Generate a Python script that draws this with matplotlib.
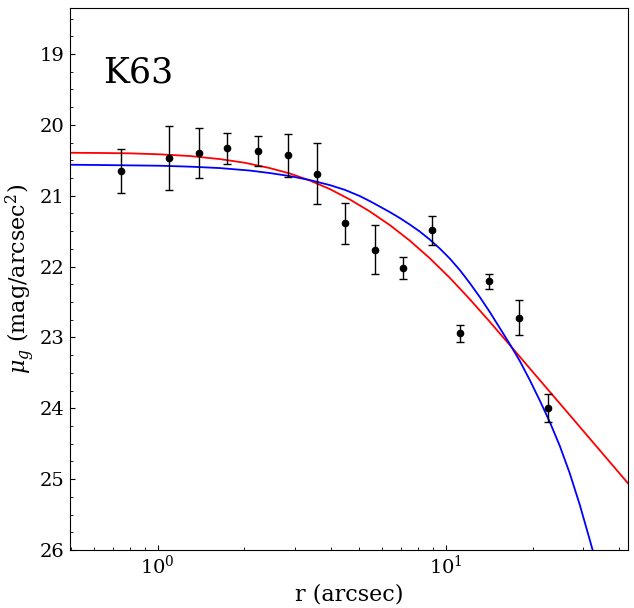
import numpy as np
import matplotlib
matplotlib.use('Agg')
import matplotlib.pyplot as plt
from matplotlib.ticker import MultipleLocator

# surface brightness profile of K63 (g band)
r = [0.746, 1.094, 1.39, 1.74, 2.23, 2.83, 3.57, 4.47, 5.69, 7.13, 8.97, 11.2, 14.1, 18.0, 22.7]
mu = [20.65, 20.47, 20.40, 20.33, 20.37, 20.43, 20.69, 21.39, 21.76, 22.02, 21.49, 22.94, 22.21, 22.72, 24.00]
mu_err = [0.31, 0.45, 0.35, 0.22, 0.21, 0.30, 0.43, 0.29, 0.35, 0.15, 0.20, 0.12, 0.11, 0.25, 0.20]

# model curves
r_red = [0.495, 0.629, 0.799, 1.016, 1.292, 1.642, 2.005, 2.448, 2.873, 3.371, 3.956, 4.642,
         5.446, 6.391, 7.499, 8.799, 10.325, 12.115, 14.217, 16.681, 19.569, 22.967, 26.953,
         31.623, 37.105, 42.852]
mu_red = [20.393, 20.396, 20.401, 20.415, 20.439, 20.482, 20.534, 20.609, 20.685, 20.784, 20.905,
          21.052, 21.221, 21.413, 21.633, 21.882, 22.158, 22.460, 22.779, 23.107, 23.437, 23.767,
          24.097, 24.428, 24.758, 25.056]

r_blue = [0.495, 0.629, 0.799, 1.016, 1.292, 1.642, 2.087, 2.448, 2.873, 3.371, 3.956, 4.460,
          5.028, 5.446, 5.900, 6.391, 6.923, 7.499, 8.123, 8.799, 9.532, 10.325, 11.184, 12.115,
          13.122, 14.217, 15.399, 16.681, 18.069, 19.569, 21.203, 22.967, 24.880, 26.952,
          29.197, 31.623, 32.660]
mu_blue = [20.562, 20.566, 20.571, 20.576, 20.589, 20.609, 20.644, 20.679, 20.722, 20.778, 20.849,
           20.916, 21.004, 21.075, 21.152, 21.230, 21.314, 21.406, 21.505, 21.618, 21.745, 21.886,
           22.048, 22.232, 22.429, 22.641, 22.867, 23.093, 23.332, 23.601, 23.890, 24.193,
           24.532, 24.920, 25.365, 25.859, 26.063]

plt.rcParams['font.family'] = 'DejaVu Serif'
plt.rcParams['mathtext.fontset'] = 'dejavuserif'

fig = plt.figure(figsize=(6.34, 6.08), dpi=100)
ax = fig.add_axes([0.110, 0.0954, 0.8805, 0.8914])

ax.plot(r_red, mu_red, color='red', lw=1.3)
ax.plot(r_blue, mu_blue, color='blue', lw=1.3)
ax.errorbar(r, mu, yerr=mu_err, fmt='o', color='black', ms=4.5, capsize=3, elinewidth=1, zorder=5)

ax.set_xscale('log')
ax.set_xlim(0.495, 42.9)
ax.set_ylim(26, 18.35)
ax.yaxis.set_minor_locator(MultipleLocator(0.25))
ax.tick_params(which='both', direction='in', labelsize=14)

ax.text(0.059, 0.863, 'K63', transform=ax.transAxes, fontsize=25)
ax.set_xlabel('r (arcsec)', fontsize=16)
ax.set_ylabel(r'$\mu_g$ (mag/arcsec$^2$)', fontsize=16, labelpad=2)

plt.savefig('out.png', dpi=100)
